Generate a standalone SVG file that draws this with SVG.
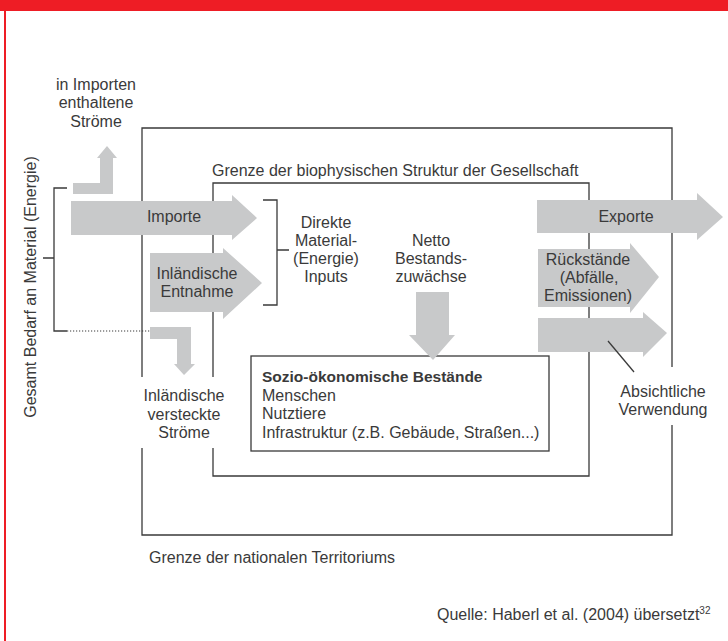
<svg xmlns="http://www.w3.org/2000/svg" width="728" height="641" viewBox="0 0 728 641">
<style>
text{font-family:"Liberation Sans",Arial,sans-serif;font-size:16px;fill:#3a3a3a}
.c{text-anchor:middle}
.ln{fill:none;stroke:#3a3a3a;stroke-width:1.3}
.ar{fill:#c8c9ca}
</style>
<rect x="0" y="0" width="728" height="11" fill="#ee1d25"/>
<rect x="4" y="8" width="2" height="633" fill="#ee1d25"/>

<g id="territory">
<path class="ln" d="M142,377 V128 H672 V367 M672,425 V535 H142 V448"/>
<text x="149" y="563">Grenze der nationalen Territoriums</text>
</g>
<g id="society">
<path class="ln" d="M213,377 V183 H589 V476 H213 V448"/>
<text x="212" y="176">Grenze der biophysischen Struktur der Gesellschaft</text>
</g>
<g id="stocks">
<rect class="ln" x="251" y="356" width="298" height="95" fill="#fff"/>
<text x="262" y="382" style="font-weight:bold;font-size:15.5px">Sozio-ökonomische Bestände</text>
<text x="262" y="401">Menschen</text>
<text x="262" y="419">Nutztiere</text>
<text x="262" y="438">Infrastruktur (z.B. Gebäude, Straßen...)</text>
</g>

<g id="total-demand">
<text class="c" transform="translate(36,287) rotate(-90)">Gesamt Bedarf an Material (Energie)</text>
</g>
<g id="embedded-flows">
<polygon class="ar" points="73,183 100,183 100,158 97,158 107,146 117,158 113,158 113,194 73,194"/>
<text class="c" x="96" y="90">in Importen</text>
<text class="c" x="96" y="108">enthaltene</text>
<text class="c" x="96" y="127">Ströme</text>
</g>
<g id="importe">
<polygon class="ar" points="71,201 232,201 232,195 257,218 232,240 232,235 71,235"/>
<text class="c" x="174" y="222">Importe</text>
</g>
<g id="entnahme">
<polygon class="ar" points="150,253 223,253 223,248 262,283 223,319 223,312 150,312"/>
<text class="c" x="197" y="279">Inländische</text>
<text class="c" x="197" y="297">Entnahme</text>
</g>
<g id="hidden-flows">
<polygon class="ar" points="150,327 191,327 191,364 195,364 184,375 174,364 177,364 177,339 150,339"/>
<text class="c" x="184" y="401">Inländische</text>
<text class="c" x="184" y="420">versteckte</text>
<text class="c" x="184" y="438">Ströme</text>
</g>
<g id="dmi">
<text class="c" x="326" y="228">Direkte</text>
<text class="c" x="326" y="246">Material-</text>
<text class="c" x="326" y="264">(Energie)</text>
<text class="c" x="326" y="282">Inputs</text>
</g>
<g id="netto">
<text class="c" x="431" y="246">Netto</text>
<text class="c" x="431" y="264">Bestands-</text>
<text class="c" x="431" y="282">zuwächse</text>
<polygon class="ar" points="416,292 449,292 449,335 455,335 433,360 409,335 416,335"/>
</g>
<g id="exporte">
<polygon class="ar" points="537,200 697,200 697,193 723,217 697,240 697,233 537,233"/>
<text class="c" x="626" y="222">Exporte</text>
</g>
<g id="rueckstaende">
<polygon class="ar" points="538,249 630,249 630,243 659,277 630,313 630,307 538,307"/>
<text class="c" x="588" y="265">Rückstände</text>
<text class="c" x="589" y="283">(Abfälle,</text>
<text class="c" x="588" y="301">Emissionen)</text>
</g>
<g id="verwendung">
<polygon class="ar" points="538,318 643,318 643,312 667,333 643,357 643,352 538,352"/>
<text class="c" x="663" y="397">Absichtliche</text>
<text class="c" x="663" y="415">Verwendung</text>
</g>

<g id="connectors">
<path class="ln" d="M67,188 H54 V331 H67 M43,258 H54"/>
<path d="M67,331 H150" fill="none" stroke="#3a3a3a" stroke-width="1.2" stroke-dasharray="1.2,1.8"/>
<path class="ln" d="M263,200 H277 V305 H263 M277,250 H289"/>
<path class="ln" d="M608,341 L634,372"/>
</g>

<text x="437" y="620">Quelle: Haberl et al. (2004) übersetzt<tspan style="font-size:10px" dy="-6">32</tspan></text>
</svg>
